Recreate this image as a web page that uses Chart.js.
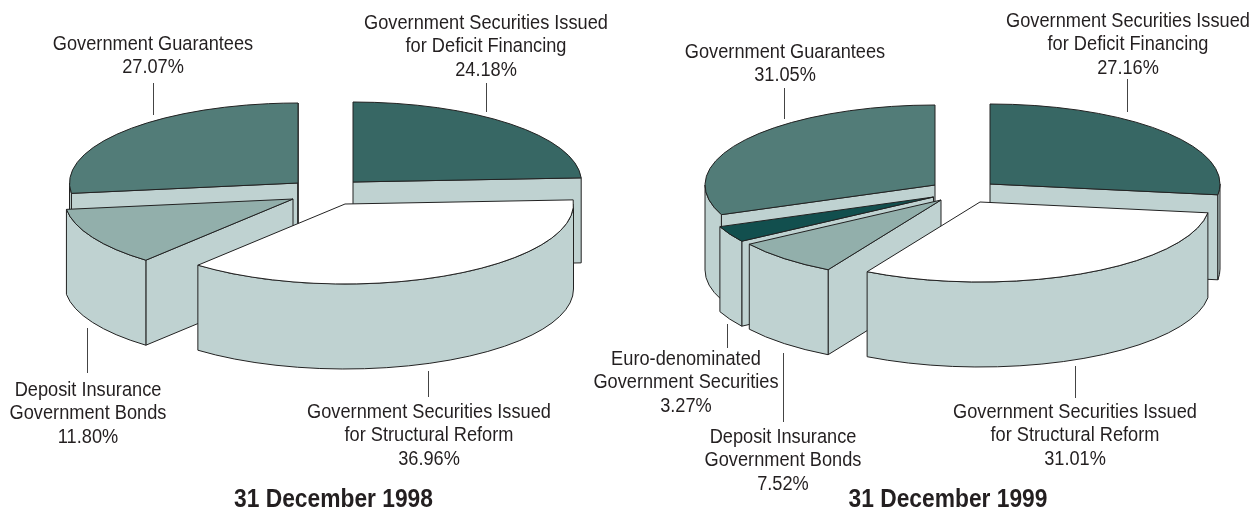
<!DOCTYPE html>
<html>
<head>
<meta charset="utf-8">
<title>Government debt by type</title>
<style>
  html, body { margin: 0; padding: 0; background: #fff; overflow: hidden; }
  #page { position: relative; width: 1254px; height: 510px; overflow: hidden; }
  canvas { position: absolute; top: 0; }
</style>
<script src="https://cdn.jsdelivr.net/npm/chart.js@4/dist/chart.umd.js"></script>
</head>
<body>
<div id="page">
  <canvas id="chart1998" width="640" height="510" style="left:0"></canvas>
  <canvas id="chart1999" width="674" height="510" style="left:580px"></canvas>
</div>
<script>
/**
 * Data
 */
const categories1998 = [
  ['Government Securities Issued', 'for Deficit Financing'],
  ['Government Securities Issued', 'for Structural Reform'],
  ['Deposit Insurance', 'Government Bonds'],
  ['Government Guarantees'],
];
const values1998 = [24.18, 36.96, 11.8, 27.07];

const categories1999 = [
  ['Government Securities Issued', 'for Deficit Financing'],
  ['Government Securities Issued', 'for Structural Reform'],
  ['Deposit Insurance', 'Government Bonds'],
  ['Euro-denominated', 'Government Securities'],
  ['Government Guarantees'],
];
const values1999 = [27.16, 31.01, 7.52, 3.27, 31.05];

const colors1998 = ['#376764', '#ffffff', '#92afab', '#527c78'];
const colors1999 = ['#376764', '#ffffff', '#92afab', '#124f4e', '#527c78'];

/**
 * Shared look of the tilted pies
 */
const tiltRadius = 80;
const depth = 85;
const wallColor = '#bfd2d1';
const edgeColor = '#222';
const leaderColor = '#444';
const textColor = '#231f20';
const labelFont = '20.5px "Liberation Sans", sans-serif';
const labelStretch = 0.888;
const titleFont = 'bold 26.5px "Liberation Sans", sans-serif';
const titleStretch = 0.86;
const lineHeight = 23.5;

/**
 * Per-slice placement, in page pixels:
 * apex of the exploded wedge, label centre and first line, leader line
 */
const layout1998 = {
  canvasLeft: 0,
  radius: 228.5,
  drawOrder: [0, 3, 2, 1],
  apex: [[353, 182], [345, 204], [293, 199], [298, 183]],
  label: [[486, 23], [429, 412], [88, 390], [153, 44]],
  leader: [[486, 83, 112], [428, 371, 397], [87, 328, 373], [153, 83, 115]],
  title: ['31 December 1998', 333.5, 499.5],
};
const layout1999 = {
  canvasLeft: 580,
  radius: 230,
  drawOrder: [0, 4, 3, 2, 1],
  apex: [[990, 184], [980, 202], [941, 200], [933.5, 197], [935, 185]],
  label: [[1128, 21], [1075, 412], [783, 437], [686, 359], [785, 52]],
  leader: [[1127, 79, 112], [1075, 366, 398], [783, 353, 422], [727, 324, 348], [784, 88, 119]],
  title: ['31 December 1999', 948, 499.5],
};

/**
 * Wedge faces, all taken from the arc elements the pie controller laid out
 */
function paintFace(ctx, color) {
  ctx.fillStyle = color;
  ctx.fill();
  ctx.stroke();
}

function drawCutFace(ctx, arc, apexX, apexY, angle) {
  const rimX = apexX + arc.outerRadius * Math.cos(angle);
  const rimY = apexY + tiltRadius * Math.sin(angle);
  ctx.beginPath();
  ctx.moveTo(apexX, apexY);
  ctx.lineTo(rimX, rimY);
  ctx.lineTo(rimX, rimY + depth);
  ctx.lineTo(apexX, apexY + depth);
  ctx.closePath();
  paintFace(ctx, wallColor);
}

function drawOuterWall(ctx, arc, apexX, apexY, from, to) {
  ctx.beginPath();
  ctx.ellipse(apexX, apexY, arc.outerRadius, tiltRadius, 0, from, to);
  ctx.ellipse(apexX, apexY + depth, arc.outerRadius, tiltRadius, 0, to, from, true);
  ctx.closePath();
  paintFace(ctx, wallColor);
}

function drawWedge(ctx, arc, apexX, apexY) {
  const { startAngle, endAngle, outerRadius } = arc;

  // Only the cut faces turned towards the viewer show
  if (Math.sin(startAngle - Math.PI / 2) > 0) {
    drawCutFace(ctx, arc, apexX, apexY, startAngle);
  }
  if (Math.sin(endAngle + Math.PI / 2) > 0) {
    drawCutFace(ctx, arc, apexX, apexY, endAngle);
  }

  // Rim wall exists on the front half of the ellipse only
  const wallFrom = Math.max(startAngle, 0);
  const wallTo = Math.min(endAngle, Math.PI);
  if (wallTo > wallFrom) {
    drawOuterWall(ctx, arc, apexX, apexY, wallFrom, wallTo);
  }

  // Top face: the library's own arc, flattened
  ctx.save();
  ctx.translate(apexX, apexY);
  ctx.scale(1, tiltRadius / outerRadius);
  ctx.translate(-arc.x, -arc.y);
  arc.draw(ctx);
  ctx.restore();

  ctx.beginPath();
  ctx.moveTo(apexX, apexY);
  ctx.ellipse(apexX, apexY, outerRadius, tiltRadius, 0, startAngle, endAngle);
  ctx.closePath();
  ctx.stroke();
}

function drawText(ctx, text, x, y, stretch) {
  ctx.save();
  ctx.translate(x, y);
  ctx.scale(stretch, 1);
  ctx.fillText(text, 0, 0);
  ctx.restore();
}

/**
 * Replaces the flat pie drawing with the extruded, exploded one
 */
const tiltedPie = {
  id: 'tiltedPie',
  beforeDatasetsDraw(chart, args, opts) {
    const { ctx } = chart;
    const arcs = chart.getDatasetMeta(0).data;
    const values = chart.data.datasets[0].data;
    const { canvasLeft, drawOrder, apex, label, leader, title } = opts.layout;

    ctx.save();
    ctx.translate(-canvasLeft, 0);
    ctx.lineWidth = 1;
    ctx.lineJoin = 'round';
    ctx.strokeStyle = edgeColor;
    drawOrder.forEach((i) => drawWedge(ctx, arcs[i], apex[i][0], apex[i][1]));

    ctx.strokeStyle = leaderColor;
    leader.forEach(([x, top, bottom]) => {
      ctx.beginPath();
      ctx.moveTo(x + 0.5, top);
      ctx.lineTo(x + 0.5, bottom);
      ctx.stroke();
    });

    ctx.fillStyle = textColor;
    ctx.textAlign = 'center';
    ctx.textBaseline = 'middle';
    ctx.font = labelFont;
    chart.data.labels.forEach((lines, i) => {
      [...lines, values[i].toFixed(2) + '%'].forEach((line, row) => {
        drawText(ctx, line, label[i][0], label[i][1] + row * lineHeight, labelStretch);
      });
    });
    ctx.font = titleFont;
    drawText(ctx, title[0], title[1], title[2], titleStretch);
    ctx.restore();
    return false;
  },
};

/**
 * Chart
 */
function createTiltedPie({ selector, labels, data, colors, layout }) {
  const ctx = document.getElementById(selector).getContext('2d');
  return new Chart(ctx, {
    type: 'pie',
    data: {
      labels: labels,
      datasets: [{ data: data, backgroundColor: colors, borderWidth: 0 }],
    },
    options: {
      responsive: false,
      animation: false,
      radius: layout.radius,
      plugins: {
        legend: { display: false },
        tooltip: { enabled: false },
        tiltedPie: { layout: layout },
      },
    },
    plugins: [tiltedPie],
  });
}

createTiltedPie({
  selector: 'chart1998',
  labels: categories1998,
  data: values1998,
  colors: colors1998,
  layout: layout1998,
});
createTiltedPie({
  selector: 'chart1999',
  labels: categories1999,
  data: values1999,
  colors: colors1999,
  layout: layout1999,
});
</script>
</body>
</html>
